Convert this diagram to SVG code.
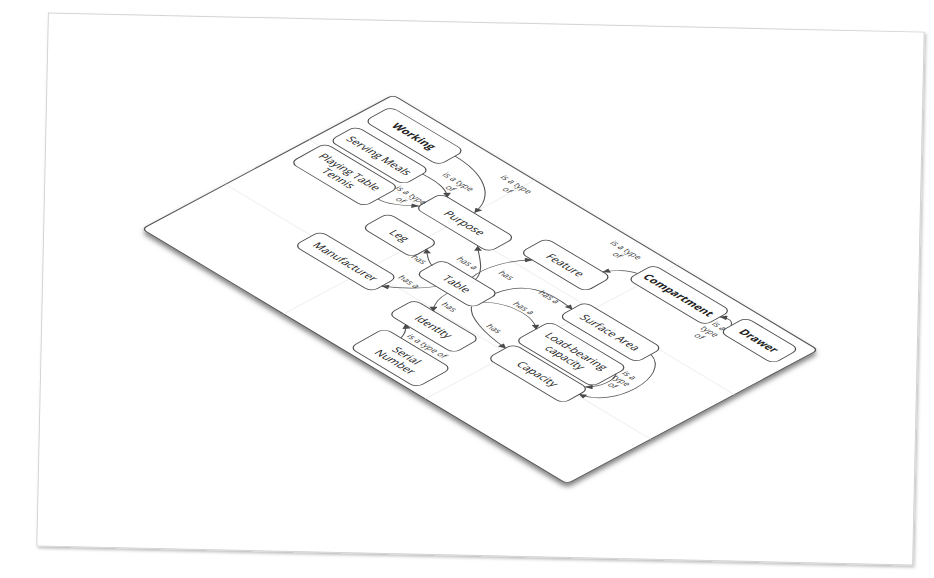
<svg xmlns="http://www.w3.org/2000/svg" width="934" height="578" viewBox="0 0 934 578">
<defs>
<filter id="pageShadow" x="-5%" y="-5%" width="110%" height="110%"><feDropShadow dx="1.5" dy="2" stdDeviation="1.5" flood-color="#000" flood-opacity="0.25"/></filter>
<filter id="boardShadow" x="-10%" y="-10%" width="120%" height="130%"><feDropShadow dx="0" dy="3.5" stdDeviation="2.5" flood-color="#000" flood-opacity="0.5"/></filter>
<marker id="arr" viewBox="0 0 10 10" refX="9" refY="5" markerWidth="8.5" markerHeight="6.5" markerUnits="userSpaceOnUse" orient="auto"><path d="M0,0 L10,5 L0,10 z" fill="#4a4a4a"/></marker>
<style>
.node rect{fill:#fff;stroke:#4a4a4a;stroke-width:1}
.node text{font-family:"Open Sans","Liberation Sans",sans-serif;font-size:11px;fill:#222;text-anchor:middle;dominant-baseline:central}
.b text{font-weight:700}
.edge{fill:none;stroke:#555;stroke-width:0.9;marker-end:url(#arr)}
.lbl{font-family:"Open Sans","Liberation Sans",sans-serif;font-size:8.5px;fill:#3a3a3a;text-anchor:middle;dominant-baseline:central}
.grid{stroke:#e8e8e8;stroke-width:0.7;fill:none}
</style>
</defs>
<rect width="934" height="578" fill="#fff"/>
<g id="page" filter="url(#pageShadow)"><rect x="-438" y="-266.5" width="876" height="533" transform="translate(480.5 289) rotate(1.25)" fill="#fff" stroke="#d4d4d4" stroke-width="1"/></g>
<g id="board" filter="url(#boardShadow)"><g transform="matrix(0.857 0.514 -0.881 0.470 393 95)"><rect x="0" y="0" width="496" height="285" rx="5" fill="#fff" stroke="#555" stroke-width="1.2"/></g></g>
<g id="grid" transform="matrix(0.857 0.514 -0.881 0.470 393 95)">
<path class="grid" d="M165.3 0 V285 M330.7 0 V285 M0 95 H496 M0 190 H496"/>
</g>
<g id="diagram" transform="matrix(0.858 0.514 -0.874 0.487 390 97)">
<g id="nodes">
<g id="n-working" class="node b"><rect x="10" y="9" width="86" height="30" rx="7"/><text x="53" y="24">Working</text></g>
<g id="n-serving" class="node"><rect x="10" y="49" width="86" height="30" rx="7"/><text x="53" y="64">Serving Meals</text></g>
<g id="n-ptt" class="node"><rect x="10" y="84" width="86" height="40" rx="7"/><text x="53" y="97.5">Playing Table</text><text x="53" y="110.5">Tennis</text></g>
<g id="n-purpose" class="node"><rect x="126" y="65" width="86" height="30" rx="7"/><text x="169" y="80">Purpose</text></g>
<g id="n-leg" class="node"><rect x="116" y="116" width="58" height="30" rx="7"/><text x="145" y="131">Leg</text></g>
<g id="n-manufacturer" class="node"><rect x="96" y="174" width="90" height="30" rx="7"/><text x="141" y="189">Manufacturer</text></g>
<g id="n-table" class="node"><rect x="193" y="130" width="66" height="30" rx="7"/><text x="226" y="145">Table</text></g>
<g id="n-identity" class="node"><rect x="218" y="186" width="76" height="30" rx="7"/><text x="256" y="201">Identity</text></g>
<g id="n-serial" class="node"><rect x="230" y="232" width="78" height="40" rx="7"/><text x="270" y="245.5">Serial</text><text x="270" y="258.5">Number</text></g>
<g id="n-feature" class="node"><rect x="230" y="47" width="76" height="30" rx="7"/><text x="268" y="62">Feature</text></g>
<g id="n-compartment" class="node b"><rect x="317" y="9.5" width="90" height="30" rx="7"/><text x="362" y="24.5">Compartment</text></g>
<g id="n-drawer" class="node b"><rect x="422" y="7" width="62" height="30" rx="7"/><text x="453" y="22">Drawer</text></g>
<g id="n-surface" class="node"><rect x="316" y="87" width="90" height="30" rx="7"/><text x="361" y="102">Surface Area</text></g>
<g id="n-loadbearing" class="node"><rect x="316" y="127" width="90" height="40" rx="7"/><text x="361" y="140.5">Load-bearing</text><text x="361" y="153.5">capacity</text></g>
<g id="n-capacity" class="node"><rect x="318" y="171" width="88" height="30" rx="7"/><text x="362" y="186">Capacity</text></g>
</g>
<g id="connectors">
<path class="edge" d="M96 20 C128 20 158 34 164 64"/>
<text class="lbl" x="159" y="11">is a type</text><text class="lbl" x="160" y="22">of</text>
<path class="edge" d="M96 57 C112 56 124 57 133 65"/>
<text class="lbl" x="124" y="43">is a type</text><text class="lbl" x="126" y="54">of</text>
<path class="edge" d="M96 108 C108 108 118 98 126 91"/>
<text class="lbl" x="111" y="84">is a type</text><text class="lbl" x="110" y="95">of</text>
<path class="edge" d="M232 130 C228 115 210 105 200 96"/>
<text class="lbl" x="211" y="118">has a</text>
<path class="edge" d="M194 142 C186 140 180 134 174 129"/>
<text class="lbl" x="180" y="143">has</text>
<path class="edge" d="M217 160 C210 172 198 184 186 192"/>
<text class="lbl" x="197" y="171">has a</text>
<path class="edge" d="M230 160 C230 170 234 180 240 186"/>
<text class="lbl" x="245" y="172">has</text>
<path class="edge" d="M228 130 C224 112 232 90 244 77"/>
<text class="lbl" x="245" y="107">has</text>
<path class="edge" d="M257 132 C262 104 282 97 316 102"/>
<text class="lbl" x="291" y="103">has a</text>
<path class="edge" d="M259 148 C272 134 300 130 316 143"/>
<text class="lbl" x="288" y="129">has a</text>
<path class="edge" d="M257 159 C265 170 290 178 318 180"/>
<text class="lbl" x="292" y="167">has</text>
<path class="edge" d="M249 232 C247 225 242 219 238 216"/>
<text class="lbl" x="272" y="224">is a type of</text>
<path class="edge" d="M317 28 C308 30 300 38 296 47"/>
<text class="lbl" x="287" y="11">is a type</text><text class="lbl" x="287" y="21">of</text>
<path class="edge" d="M422 24 C418 18 413 18 407 22"/>
<text class="lbl" x="416" y="31">is a</text><text class="lbl" x="416" y="42">type</text><text class="lbl" x="415" y="53">of</text>
<path class="edge" d="M406 100 C440 110 440 175 406 182"/>
<path class="edge" d="M406 140 C412 148 411 162 402 171"/>
<text class="lbl" x="415" y="133">is a</text><text class="lbl" x="416" y="143">type</text><text class="lbl" x="416" y="153">of</text>
</g>
</g>
</svg>
